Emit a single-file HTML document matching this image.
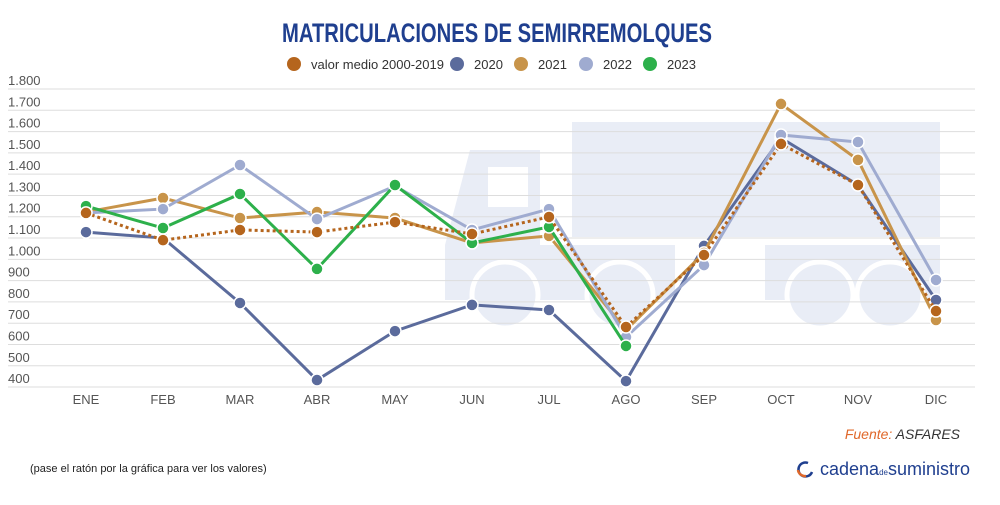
<!DOCTYPE html><html><head><meta charset="utf-8"><style>
body{margin:0;width:1000px;height:500px;background:#fff;font-family:"Liberation Sans",sans-serif;overflow:hidden}
</style></head><body>
<svg id="s" width="1000" height="500" xmlns="http://www.w3.org/2000/svg" font-family="Liberation Sans, sans-serif">
<text x="497" y="42" text-anchor="middle" font-size="27" font-weight="bold" fill="#1f3f8f" font-family="Liberation Sans Narrow, Liberation Sans, sans-serif" textLength="430" lengthAdjust="spacingAndGlyphs">MATRICULACIONES DE SEMIRREMOLQUES</text>
<g font-size="13" fill="#333">
<circle cx="294" cy="64" r="7" fill="#b5651d"/><text x="311" y="69">valor medio 2000-2019</text>
<circle cx="457" cy="64" r="7" fill="#5b6b9c"/><text x="474" y="69">2020</text>
<circle cx="521" cy="64" r="7" fill="#c8944a"/><text x="538" y="69">2021</text>
<circle cx="586" cy="64" r="7" fill="#9fabd0"/><text x="603" y="69">2022</text>
<circle cx="650" cy="64" r="7" fill="#2db04b"/><text x="667" y="69">2023</text>
</g>
<g fill="#e9edf6">
<rect x="572" y="122" width="368" height="115"/>
<path d="M470 150 H540 V300 H445 V245 Z"/>
<rect x="540" y="245" width="135" height="55"/>
<rect x="765" y="245" width="175" height="55"/>
<circle cx="505" cy="295" r="33" stroke="#fff" stroke-width="5"/>
<circle cx="620" cy="295" r="33" stroke="#fff" stroke-width="5"/>
<circle cx="820" cy="295" r="33" stroke="#fff" stroke-width="5"/>
<circle cx="890" cy="295" r="33" stroke="#fff" stroke-width="5"/>
</g>
<rect x="488" y="167" width="40" height="40" fill="#fff"/>
<g id="grid"></g><g id="lines"></g>
<text x="960" y="439" text-anchor="end" font-size="14" font-style="italic"><tspan fill="#e0682a">Fuente:</tspan><tspan fill="#333"> ASFARES</tspan></text>
<text x="30" y="472" font-size="11" fill="#222">(pase el ratón por la gráfica para ver los valores)</text>
<path d="M808 463 A7 7 0 1 0 812 472" fill="none" stroke="#1f3f8f" stroke-width="2.5"/>
<path d="M798 470 A7 7 0 0 0 806 476" fill="none" stroke="#e0682a" stroke-width="2.5"/>
<text x="820" y="475" font-size="18" fill="#1f3f8f">cadena<tspan font-size="8">de</tspan>suministro</text>
</svg>
<script>
var y=v=>89+(1800-v)*0.2129, xs=[86,163,240,317,395,472,549,626,704,781,858,936];
var g='';
for(var v=400;v<=1800;v+=100){var yy=y(v);g+=`<line x1="8" x2="975" y1="${yy}" y2="${yy}" stroke="#ddd"/><text x="8" y="${yy-4}" font-size="13" fill="#555">${v>=1000?(v/1000).toFixed(3):v}</text>`;}
["ENE","FEB","MAR","ABR","MAY","JUN","JUL","AGO","SEP","OCT","NOV","DIC"].forEach((m,i)=>g+=`<text x="${xs[i]}" y="404" text-anchor="middle" font-size="13" fill="#555">${m}</text>`);
document.getElementById('grid').innerHTML=g;
var S=[
["#5b6b9c",0,[1128,1100,795,433,663,786,762,428,1063,1570,1349,809]],
["#c8944a",0,[1222,1288,1194,1222,1194,1077,1110,668,1030,1730,1467,715]],
["#9fabd0",0,[1218,1236,1443,1189,1344,1138,1236,635,973,1584,1551,903]],
["#2db04b",0,[1250,1147,1307,955,1349,1077,1152,593]],
["#b5651d",1,[1218,1090,1138,1128,1175,1119,1199,682,1020,1542,1349,757]]];
var l='';
S.forEach(s=>{var p=s[2].map((v,i)=>xs[i]+','+y(v)).join(' ');
l+=`<polyline points="${p}" fill="none" stroke="${s[0]}" stroke-width="3" ${s[1]?'stroke-dasharray="3 3"':''}/>`;
s[2].forEach((v,i)=>l+=`<circle cx="${xs[i]}" cy="${y(v)}" r="6" fill="${s[0]}" stroke="#fff" stroke-width="1.5"/>`);});
document.getElementById('lines').innerHTML=l;
</script>
</body></html>
